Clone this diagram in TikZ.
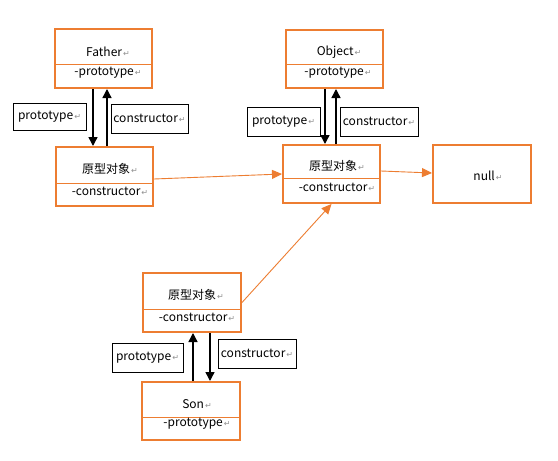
\documentclass[tikz,border=0pt]{standalone}
\usepackage{fontspec}
\setmainfont{Noto Sans CJK SC}
\newfontfamily\retfont{DejaVu Sans}
\usetikzlibrary{arrows.meta}
\definecolor{boxorange}{HTML}{ED7D31}
\definecolor{retgray}{HTML}{909090}
\newcommand{\retmk}{\hspace{1pt}{\retfont\fontsize{8}{8}\selectfont\color{retgray}↵}}
\tikzset{
  umlbox/.style={draw=boxorange, line width=2pt, rectangle, inner sep=0pt},
  divline/.style={draw=boxorange, line width=0.9pt},
  txt/.style={inner sep=0pt, font=\fontsize{12}{14}\selectfont},
  lblbox/.style={draw=black, line width=0.9pt, rectangle, inner sep=0pt, font=\fontsize{12}{14}\selectfont},
  barr/.style={draw=black, line width=1.4pt, -{Triangle[length=9pt,width=9pt]}},
  oarr/.style={draw=boxorange, line width=0.9pt, -{Triangle[length=10pt,width=9pt]}},
}
\begin{document}
\begin{tikzpicture}[x=1pt,y=-1pt]
\useasboundingbox[fill=white] (0,0) rectangle (558,461);

% boxes
\node[umlbox, minimum width=97pt, minimum height=59pt] (father) at (103.5,58.5) {};
\node[umlbox, minimum width=97pt, minimum height=58pt] (object) at (334.5,59) {};
\node[umlbox, minimum width=97pt, minimum height=59pt] (p1) at (104.5,176.5) {};
\node[umlbox, minimum width=97pt, minimum height=58pt] (p2) at (331.5,174) {};
\node[umlbox, minimum width=98pt, minimum height=58pt] (null) at (482,174) {};
\node[umlbox, minimum width=98pt, minimum height=59pt] (p3) at (192,302.5) {};
\node[umlbox, minimum width=98pt, minimum height=58pt] (son) at (191,411) {};

% dividers
\draw[divline] (father.west |- 0,64) -- (father.east |- 0,64);
\draw[divline] (object.west |- 0,64) -- (object.east |- 0,64);
\draw[divline] (p1.west |- 0,183) -- (p1.east |- 0,183);
\draw[divline] (p2.west |- 0,178) -- (p2.east |- 0,178);
\draw[divline] (p3.west |- 0,309) -- (p3.east |- 0,309);
\draw[divline] (son.west |- 0,417) -- (son.east |- 0,417);

% box texts
\node[txt] (fatherT) at (108,52) {Father\retmk};
\node[txt] (fatherA) at (108,73) {-prototype\retmk};
\node[txt] (objectT) at (339,52) {Object\retmk};
\node[txt] (objectA) at (338,73) {-prototype\retmk};
\node[txt] (p1T) at (110,169) {原型对象\retmk};
\node[txt] (p1A) at (110,191) {-constructor\retmk};
\node[txt] (p2T) at (337,166) {原型对象\retmk};
\node[txt] (p2A) at (337,187) {-constructor\retmk};
\node[txt] (nullT) at (488,176) {null\retmk};
\node[txt] (p3T) at (196,295) {原型对象\retmk};
\node[txt] (p3A) at (197,317) {-constructor\retmk};
\node[txt] (sonT) at (197,404) {Son\retmk};
\node[txt] (sonA) at (197,424) {-prototype\retmk};

% label boxes
\node[lblbox, minimum width=73pt, minimum height=27pt] (l1) at (49.5,116.5) {prototype\retmk};
\node[lblbox, minimum width=77pt, minimum height=29pt] (l2) at (149.5,118.5) {constructor\retmk};
\node[lblbox, minimum width=73pt, minimum height=29pt] (l3) at (283.5,121.5) {prototype\retmk};
\node[lblbox, minimum width=78pt, minimum height=29pt] (l4) at (379,121.5) {constructor\retmk};
\node[lblbox, minimum width=71pt, minimum height=29pt] (l5) at (147.5,357.5) {prototype\retmk};
\node[lblbox, minimum width=78pt, minimum height=29pt] (l6) at (257,353.5) {constructor\retmk};

% black arrows
\draw[barr] ([xshift=-10.5pt]father.south) -- ([xshift=-11.5pt]p1.north);
\draw[barr] ([xshift=2.5pt]p1.north) -- ([xshift=3.5pt]father.south);
\draw[barr] ([xshift=-9.5pt]object.south) -- ([xshift=-6.5pt]p2.north);
\draw[barr] ([xshift=4.5pt]p2.north) -- ([xshift=1.5pt]object.south);
\draw[barr] ([xshift=2pt]son.north) -- ([xshift=1pt]p3.south);
\draw[barr] ([xshift=18pt]p3.south) -- ([xshift=19pt]son.north);

% orange arrows
\draw[oarr] ([yshift=-2.5pt]p1.east) -- (p2.west);
\draw[oarr] ([yshift=3pt]p2.east) -- ([yshift=1pt]null.west);
\draw[oarr] (p3.east) -- (p2.south);
\end{tikzpicture}
\end{document}
